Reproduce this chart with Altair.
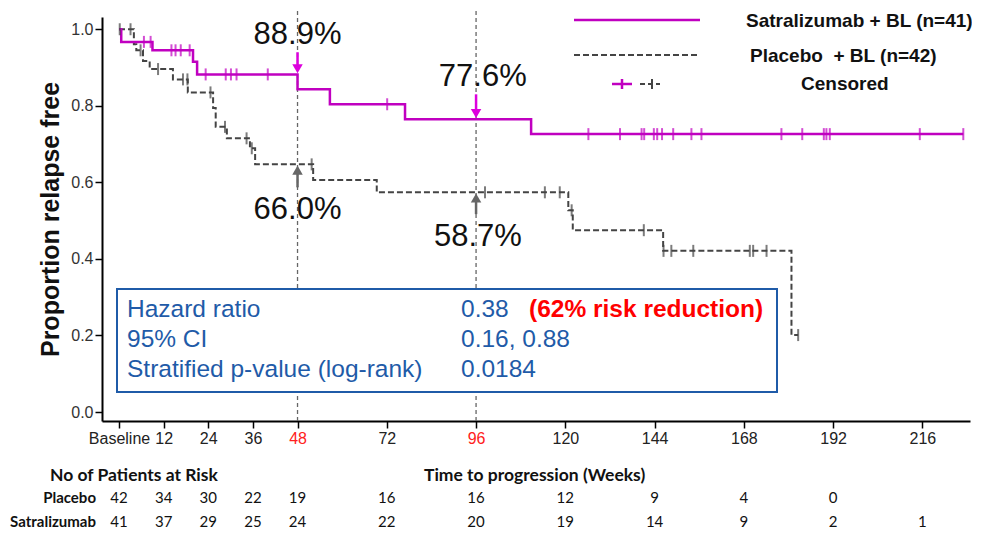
import altair as alt
import pandas as pd

# ---------------- data ----------------
sat_weeks = [0, 0.6, 9.0, 19.9, 21.0, 48.0, 56.7, 76.9, 110.8, 227.0]
sat_surv = [1.0, 0.967, 0.945, 0.915, 0.882, 0.843, 0.804, 0.765, 0.726, 0.726]
pla_weeks = [0, 4.0, 4.65, 6.45, 8.25, 14.5, 18.5, 25.3, 26.0, 29.0, 35.2, 36.6,
             52.2, 69.3, 120.8, 122.0, 146.3, 180.8, 182.6]
pla_surv = [1.0, 0.961, 0.945, 0.917, 0.896, 0.869, 0.835, 0.794, 0.745, 0.715, 0.689,
            0.647, 0.606, 0.574, 0.527, 0.475, 0.421, 0.201, 0.201]

sat_cens = [6.7, 8.5, 14.1, 15.2, 16.6, 19.0, 23.3, 28.7, 30.1, 31.6, 40.0, 72.1,
            126.2, 134.7, 140.5, 141.2, 143.8, 144.7, 146.0, 149.0, 153.9, 156.6,
            178.1, 183.7, 189.5, 190.2, 191.1, 215.3, 227.0]
pla_cens = [0.2, 3.1, 5.8, 10.5, 17.2, 18.4, 24.6, 28.5, 34.3, 35.7, 51.8, 98.4,
            114.5, 118.5, 121.7, 141.1, 146.4, 148.5, 154.4, 169.6, 170.5, 174.1, 182.6]

x_ticks = [0, 12, 24, 36, 48, 72, 96, 120, 144, 168, 192, 216]
y_ticks = [0.0, 0.2, 0.4, 0.6, 0.8, 1.0]

risk_weeks = [0, 12, 24, 36, 48, 72, 96, 120, 144, 168, 192, 216]
pla_risk = [42, 34, 30, 22, 19, 16, 16, 12, 9, 4, 0, None]
sat_risk = [41, 37, 29, 25, 24, 22, 20, 19, 14, 9, 2, 1]

pct_labels = ["88.9%", "77.6%", "66.0%", "58.7%"]
pct_weeks = [48, 97.8, 48, 96.5]
pct_ypos = [0.984, 0.875, 0.527, 0.457]

box_rows = ["Hazard ratio", "95% CI", "Stratified p-value (log-rank)"]
box_vals = ["0.38", "0.16, 0.88", "0.0184"]

MAG = "#c000c0"
GRY = "#444444"
BLUE = "#1f5ba8"
FONT = "Liberation Sans"
TF = "Lato"


def level(ts, ss, t):
    v = ss[0]
    for a, b in zip(ts, ss):
        if a <= t:
            v = b
    return v


km_sat = pd.DataFrame({"w": sat_weeks, "s": sat_surv})
km_pla = pd.DataFrame({"w": pla_weeks, "s": pla_surv})
cens_sat = pd.DataFrame({"w": sat_cens, "s": [level(sat_weeks, sat_surv, t) for t in sat_cens]})
cens_pla = pd.DataFrame({"w": pla_cens, "s": [level(pla_weeks, pla_surv, t) for t in pla_cens]})

xs = alt.Scale(domain=[-4.57, 228.8], nice=False, zero=False)
ys = alt.Scale(domain=[-0.0235, 1.032], nice=False, zero=False)

AX_X = alt.Axis(
    values=x_ticks, title=None, grid=False, domainColor="black", domainWidth=2,
    tickColor="black", tickWidth=1.5, tickSize=7, labelFont=FONT, labelFontSize=16,
    labelColor={"condition": {"test": "datum.value == 48 || datum.value == 96", "value": "#ff2020"},
                "value": "#222222"},
    labelPadding=2, labelExpr="datum.value == 0 ? 'Baseline' : datum.label",
    labelFlush=False, labelOverlap=False)
AX_Y = alt.Axis(
    values=y_ticks, format=".1f", title="Proportion relapse free", grid=False,
    domainColor="black", domainWidth=2, tickColor="black", tickWidth=1.5, tickSize=7,
    labelFont=FONT, labelFontSize=16, labelColor="#333333", labelPadding=2,
    titleFont=FONT, titleFontSize=25, titleFontWeight="bold", titleColor="#111111",
    titlePadding=7, labelFlush=False)


def X(field="w"):
    return alt.X(f"{field}:Q", scale=xs, axis=AX_X)


def Y(field="s"):
    return alt.Y(f"{field}:Q", scale=ys, axis=AX_Y)


def PX(field):
    return alt.X(f"{field}:Q", scale=None, axis=None)


def PY(field):
    return alt.Y(f"{field}:Q", scale=None, axis=None)


one = pd.DataFrame({"a": [0]})

# reference lines at 48 and 96
ref_df = pd.DataFrame({"w": [48, 96], "y0": [-0.0235, -0.0235], "y1": [1.05, 1.05]})
refs = alt.Chart(ref_df).mark_rule(color="#666666", strokeDash=[4, 3], strokeWidth=1.3).encode(
    x=X(), y=Y("y0"), y2="y1:Q")

# KM curves
sat_line = alt.Chart(km_sat).mark_line(
    interpolate="step-after", color=MAG, strokeWidth=2.5).encode(x=X(), y=Y())
pla_line = alt.Chart(km_pla).mark_line(
    interpolate="step-after", color=GRY, strokeWidth=2, strokeDash=[6, 3]).encode(x=X(), y=Y())

sat_ticks = alt.Chart(cens_sat).mark_tick(orient="vertical", size=12, thickness=2, color=MAG).encode(x=X(), y=Y())
pla_ticks = alt.Chart(cens_pla).mark_tick(orient="vertical", size=12, thickness=2, color=GRY).encode(x=X(), y=Y())

# arrows
arr_m = pd.DataFrame({"w": [48, 96], "y0": [0.94, 0.83], "y1": [0.897, 0.780]})
arr_g = pd.DataFrame({"w": [48, 96], "y0": [0.587, 0.517], "y1": [0.632, 0.559]})
shaft_m = alt.Chart(arr_m).mark_rule(color="#dd00dd", strokeWidth=2.5).encode(x=X(), y=Y("y0"), y2="y1:Q")
head_m = alt.Chart(arr_m).mark_point(shape="triangle-down", filled=True, size=110, color="#dd00dd",
                                     opacity=1).encode(x=X(), y=Y("y1"))
shaft_g = alt.Chart(arr_g).mark_rule(color="#666666", strokeWidth=2.5).encode(x=X(), y=Y("y0"), y2="y1:Q")
head_g = alt.Chart(arr_g).mark_point(shape="triangle-up", filled=True, size=110, color="#666666",
                                     opacity=1).encode(x=X(), y=Y("y1"))

# percentage labels
pct_df = pd.DataFrame({"w": pct_weeks, "s": pct_ypos, "t": pct_labels})
pcts = alt.Chart(pct_df).mark_text(font=FONT, fontSize=31, color="#111111", baseline="middle",
                                   align="center").encode(x=X(), y=Y(), text="t:N")

# statistics box
box = alt.Chart(one).mark_rect(fill="white", stroke=BLUE, strokeWidth=2).encode(
    x=alt.value(15), x2=alt.value(675), y=alt.value(272), y2=alt.value(375))
box_df = pd.DataFrame({"t": box_rows, "v": box_vals, "y": [293, 323, 353]})
box_t1 = alt.Chart(box_df).mark_text(font=FONT, fontSize=24.5, color=BLUE, align="left",
                                     baseline="middle").encode(x=alt.value(25), y=PY("y"), text="t:N")
box_t2 = alt.Chart(box_df).mark_text(font=FONT, fontSize=24.5, color=BLUE, align="left",
                                     baseline="middle").encode(x=alt.value(359), y=PY("y"), text="v:N")
box_red = alt.Chart(pd.DataFrame({"t": ["(62% risk reduction)"]})).mark_text(
    font=FONT, fontSize=24.5, fontWeight="bold", color="#ff0000", align="left", baseline="middle").encode(
    x=alt.value(427), y=alt.value(293), text="t:N")

# legend (drawn in pixel space of the plot)
leg_lines = alt.Chart(one).mark_rule(color=MAG, strokeWidth=2.5).encode(
    x=alt.value(472), x2=alt.value(598), y=alt.value(3))
leg_lines2 = alt.Chart(one).mark_rule(color=GRY, strokeWidth=2, strokeDash=[6, 3]).encode(
    x=alt.value(472), x2=alt.value(598), y=alt.value(38))
leg_c1 = alt.Chart(one).mark_rule(color=MAG, strokeWidth=2.5).encode(
    x=alt.value(510), x2=alt.value(530), y=alt.value(67))
leg_c1t = alt.Chart(one).mark_rule(color=MAG, strokeWidth=2.5).encode(
    x=alt.value(520), y=alt.value(62), y2=alt.value(72))
leg_c2 = alt.Chart(one).mark_rule(color=GRY, strokeWidth=2, strokeDash=[5, 3]).encode(
    x=alt.value(538), x2=alt.value(558), y=alt.value(67))
leg_c2t = alt.Chart(one).mark_rule(color=GRY, strokeWidth=2).encode(
    x=alt.value(550), y=alt.value(62), y2=alt.value(72))
leg_df = pd.DataFrame({"t": ["Satralizumab + BL (n=41)", "Placebo\u00a0 + BL (n=42)", "Censored"],
                       "x": [644, 648, 699], "y": [4, 39, 67]})
leg_txt = alt.Chart(leg_df).mark_text(font=FONT, fontSize=19, fontWeight="bold", color="#111111",
                                      align="left", baseline="middle").encode(
    x=PX("x"), y=PY("y"), text="t:N")

# risk table
risk_df = pd.DataFrame(
    [{"w": w, "n": str(n), "y": 481} for w, n in zip(risk_weeks, pla_risk) if n is not None]
    + [{"w": w, "n": str(n), "y": 505} for w, n in zip(risk_weeks, sat_risk) if n is not None]
)
risk_nums = alt.Chart(risk_df).mark_text(font=TF, fontSize=15, color="#111111", align="center",
                                         baseline="middle").encode(x=X(), y=PY("y"), text="n:N")
row_df = pd.DataFrame({"t": ["Placebo", "Satralizumab"], "y": [481, 505]})
row_lbl = alt.Chart(row_df).mark_text(font=TF, fontSize=15, fontWeight="bold", color="#111111",
                                      align="right", baseline="middle").encode(
    x=alt.value(-6), y=PY("y"), text="t:N")
hdr_df = pd.DataFrame({"t": ["No of Patients at Risk", "Time to progression (Weeks)"], "x": [-52, 322]})
hdr = alt.Chart(hdr_df).mark_text(font=TF, fontSize=17.5, fontWeight="bold", color="#111111",
                                  align="left", baseline="middle").encode(
    x=PX("x"), y=alt.value(459), text="t:N")

chart = alt.layer(
    refs, box, box_t1, box_t2, box_red,
    pla_line, sat_line, pla_ticks, sat_ticks,
    shaft_m, head_m, shaft_g, head_g, pcts,
    leg_lines, leg_lines2, leg_c1, leg_c1t, leg_c2, leg_c2t, leg_txt,
    risk_nums, row_lbl, hdr,
).properties(
    width=868, height=404,
    background="white",
    autosize=alt.AutoSizeParams(type="none"),
    padding={"left": 94, "top": 9, "right": 2, "bottom": 109},
).configure_view(stroke="transparent", strokeWidth=0)

chart.save("out.html", embed_options={"renderer": "svg", "actions": False})
